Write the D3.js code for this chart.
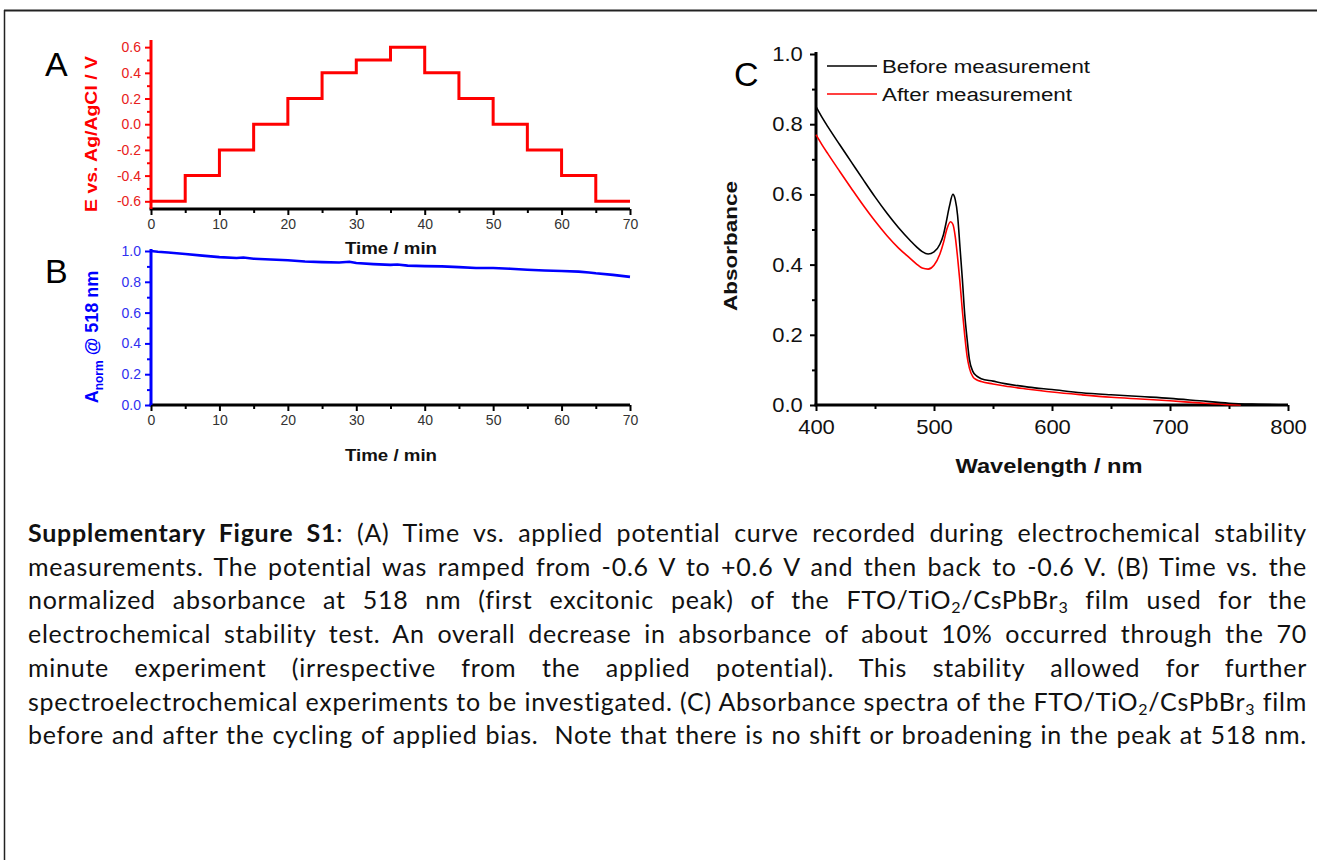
<!DOCTYPE html>
<html>
<head>
<meta charset="utf-8">
<script src="https://cdn.jsdelivr.net/npm/d3@7"></script>
<style>
  body { margin: 0; background: #fff; }
  #wrap { position: relative; width: 1317px; height: 860px; overflow: hidden; }
  svg { position: absolute; left: 0; top: 0; }
  .tick text { font-family: "Liberation Sans", Arial, sans-serif; }
  .axtitle { font-family: "Liberation Sans", Arial, sans-serif; font-weight: bold; }
  .letter { font-family: "Liberation Sans", Arial, sans-serif; font-size: 34px; fill: #000; }
  .legend { font-family: "Liberation Sans", Arial, sans-serif; font-size: 18px; fill: #111; }
  #caption { position: absolute; left: 28px; top: 516px; width: 1279px;
    font-family: Lato, "Open Sans", sans-serif; font-size: 25px; line-height: 33.7px; color: #111; }
  #caption div { text-align: justify; text-align-last: justify; white-space: nowrap; }
  #caption sub { font-size: 16px; vertical-align: -4px; line-height: 0; }
</style>
</head>
<body>
<div id="wrap">
<svg id="fig" width="1317" height="860"></svg>
<div id="caption"></div>
</div>
<script>
// panel A: applied potential steps
const timeA = [0, 5, 10, 15, 20, 25, 30, 35, 40, 45, 50, 55, 60, 65, 70];
const potentialA = [-0.6, -0.4, -0.2, 0.0, 0.2, 0.4, 0.5, 0.6, 0.4, 0.2, 0.0, -0.2, -0.4, -0.6, -0.6];

// panel B: normalized absorbance at 518 nm
const timeB = [0, 1, 2.5, 5, 7.5, 10, 12.5, 13.5, 15, 17.5, 20, 22.5, 25, 27.5, 29, 30, 32.5, 35, 36, 37.5,
               40, 42.5, 45, 47.5, 50, 52.5, 55, 57.5, 60, 62.5, 64, 65, 67.5, 70];
const absB = [1.0, 0.995, 0.99, 0.98, 0.97, 0.96, 0.955, 0.958, 0.95, 0.945, 0.94, 0.932, 0.928, 0.925, 0.93, 0.922,
              0.915, 0.91, 0.912, 0.905, 0.902, 0.9, 0.895, 0.89, 0.89, 0.885, 0.878, 0.873, 0.87, 0.866, 0.86,
              0.855, 0.845, 0.832];

// panel C: absorbance spectra
const wlBefore = [400, 405, 410, 420, 430, 440, 450, 460, 470, 480, 485, 490, 495, 500, 505, 508, 510, 513, 516,
                  518, 520, 522, 524, 526, 528, 530, 533, 536, 540, 550, 560, 580, 600, 625, 650, 675, 700, 725,
                  750, 775, 800];
const absBefore = [0.85, 0.82, 0.793, 0.742, 0.692, 0.642, 0.593, 0.547, 0.505, 0.468, 0.451, 0.437, 0.43, 0.436, 0.458,
                   0.485, 0.515, 0.565, 0.6, 0.585, 0.54, 0.45, 0.36, 0.26, 0.19, 0.13, 0.095, 0.083, 0.075, 0.068,
                   0.061, 0.051, 0.044, 0.035, 0.029, 0.024, 0.019, 0.012, 0.005, 0.002, 0.0];
const wlAfter = [400, 405, 410, 420, 430, 440, 450, 460, 470, 480, 485, 490, 495, 500, 505, 508, 511, 514, 516,
                 518, 520, 522, 524, 526, 528, 530, 533, 536, 540, 550, 560, 580, 600, 625, 650, 675, 700, 725,
                 750, 760];
const absAfter = [0.77, 0.742, 0.716, 0.666, 0.617, 0.569, 0.524, 0.483, 0.447, 0.417, 0.402, 0.39, 0.387, 0.398, 0.43,
                  0.462, 0.502, 0.522, 0.515, 0.48, 0.42, 0.35, 0.27, 0.2, 0.14, 0.105, 0.08, 0.072, 0.067, 0.06,
                  0.054, 0.045, 0.037, 0.029, 0.022, 0.017, 0.012, 0.006, 0.001, 0.0];

const legendNames = ["Before measurement", "After measurement"];

const captionLines = [
  "<b>Supplementary Figure S1</b>: (A) Time vs. applied potential curve recorded during electrochemical stability",
  "measurements. The potential was ramped from -0.6 V to +0.6 V and then back to -0.6 V. (B) Time vs. the",
  "normalized absorbance at 518 nm (first excitonic peak) of the FTO/TiO<sub>2</sub>/CsPbBr<sub>3</sub> film used for the",
  "electrochemical stability test. An overall decrease in absorbance of about 10% occurred through the 70",
  "minute experiment (irrespective from the applied potential). This stability allowed for further",
  "spectroelectrochemical experiments to be investigated. (C) Absorbance spectra of the FTO/TiO<sub>2</sub>/CsPbBr<sub>3</sub> film",
  "before and after the cycling of applied bias.&nbsp; Note that there is no shift or broadening in the peak at 518 nm."
];

let svg = d3.select("#fig");

// page frame
svg.append("line").attr("x1", 4).attr("x2", 1317).attr("y1", 10.5).attr("y2", 10.5)
  .attr("stroke", "#222").attr("stroke-width", 2);
svg.append("line").attr("x1", 4.5).attr("x2", 4.5).attr("y1", 10).attr("y2", 860)
  .attr("stroke", "#222").attr("stroke-width", 1.5);

function styleAxis(g, color, labelColor, fontSize, width){
  g.select(".domain").attr("stroke", color).attr("stroke-width", width);
  g.selectAll(".tick line").attr("stroke", color).attr("stroke-width", 2);
  g.selectAll(".tick text").attr("fill", labelColor).style("font-size", fontSize + "px");
}

function drawAxes(g, x, y, opt){
  // minor ticks first
  let xm = g.append("g").attr("transform", `translate(0,${opt.y0})`)
    .call(d3.axisBottom(x).tickValues(opt.xMinor).tickFormat("").tickSize(4).tickSizeOuter(0));
  styleAxis(xm, "#000", "#000", opt.fs, 0);
  xm.select(".domain").remove();
  let ym = g.append("g").attr("transform", `translate(${opt.x0},0)`)
    .call(d3.axisLeft(y).tickValues(opt.yMinor).tickFormat("").tickSize(4).tickSizeOuter(0));
  styleAxis(ym, opt.yColor, opt.yColor, opt.fs, 0);
  ym.select(".domain").remove();

  let xa = g.append("g").attr("transform", `translate(0,${opt.y0})`)
    .call(d3.axisBottom(x).tickValues(opt.xTicks).tickFormat(opt.xFormat).tickSize(6).tickSizeOuter(0).tickPadding(opt.xPad));
  styleAxis(xa, "#000", opt.xLabel, opt.fs, 3);
  let ya = g.append("g").attr("transform", `translate(${opt.x0},0)`)
    .call(d3.axisLeft(y).tickValues(opt.yTicks).tickFormat(opt.yFormat).tickSize(6).tickSizeOuter(0).tickPadding(opt.yPad));
  styleAxis(ya, opt.yColor, opt.yLabel, opt.fs, 3);
  ya.select(".domain").attr("d", `M0,${y.range()[0]}V${opt.yTop}`);
  xa.select(".domain").attr("d", `M${opt.x0 - 1.5},0H${x.range()[1]}`);
  return {xa, ya};
}

const f1 = d3.format(".1f");
const minusFmt = d => f1(d).replace("−", "-");

// ---------- Panel A ----------
let xA = d3.scaleLinear().domain([0, 70]).range([151, 630]);
let yA = d3.scaleLinear().domain([-0.66, 0.64]).range([209, 42]);
let gA = svg.append("g");
drawAxes(gA, xA, yA, {
  y0: 209, x0: 151, yTop: 40, fs: 14, xPad: 4, yPad: 4,
  xTicks: d3.range(0, 71, 10), xMinor: d3.range(5, 70, 10), xFormat: d => d, xLabel: "#333",
  yTicks: [-0.6, -0.4, -0.2, 0, 0.2, 0.4, 0.6], yMinor: [-0.5, -0.3, -0.1, 0.1, 0.3, 0.5], yFormat: minusFmt,
  yColor: "#ff0000", yLabel: "#e82020"
});
let stepLine = d3.line().x((d, i) => xA(timeA[i])).y(d => yA(d)).curve(d3.curveStepAfter);
gA.append("path").attr("d", stepLine(potentialA)).attr("fill", "none")
  .attr("stroke", "#ff0000").attr("stroke-width", 3);
gA.append("text").attr("class", "axtitle").attr("x", 391).attr("y", 254).attr("text-anchor", "middle")
  .style("font-size", "17px").attr("textLength", 92).attr("lengthAdjust", "spacingAndGlyphs")
  .attr("fill", "#111").text("Time / min");
gA.append("text").attr("class", "axtitle").attr("transform", "translate(97,134) rotate(-90)")
  .attr("text-anchor", "middle").style("font-size", "17px").attr("fill", "#ff0000")
  .attr("textLength", 156).attr("lengthAdjust", "spacingAndGlyphs")
  .text("E vs. Ag/AgCl / V");
gA.append("text").attr("class", "letter").attr("x", 45).attr("y", 76).text("A");

// ---------- Panel B ----------
let xB = d3.scaleLinear().domain([0, 70]).range([151, 630]);
let yB = d3.scaleLinear().domain([0, 1.0]).range([405, 251]);
let gB = svg.append("g");
drawAxes(gB, xB, yB, {
  y0: 405, x0: 151, yTop: 249, fs: 14, xPad: 4, yPad: 4,
  xTicks: d3.range(0, 71, 10), xMinor: d3.range(5, 70, 10), xFormat: d => d, xLabel: "#333",
  yTicks: [0, 0.2, 0.4, 0.6, 0.8, 1.0], yMinor: [0.1, 0.3, 0.5, 0.7, 0.9], yFormat: f1,
  yColor: "#0000ff", yLabel: "#3030f0"
});
let absLine = d3.line().x((d, i) => xB(timeB[i])).y(d => yB(d));
gB.append("path").attr("d", absLine(absB)).attr("fill", "none")
  .attr("stroke", "#0000ff").attr("stroke-width", 2.6);
gB.append("text").attr("class", "axtitle").attr("x", 391).attr("y", 461).attr("text-anchor", "middle")
  .style("font-size", "17px").attr("textLength", 92).attr("lengthAdjust", "spacingAndGlyphs")
  .attr("fill", "#111").text("Time / min");
let bt = gB.append("text").attr("class", "axtitle").attr("transform", "translate(98,337) rotate(-90)")
  .attr("text-anchor", "middle").style("font-size", "18px").attr("fill", "#0000ff");
bt.append("tspan").text("A");
bt.append("tspan").attr("dy", 5).style("font-size", "12px").text("norm");
bt.append("tspan").attr("dy", -5).text(" @ 518 nm");

gB.append("text").attr("class", "letter").attr("x", 45).attr("y", 283).text("B");

// ---------- Panel C ----------
let xC = d3.scaleLinear().domain([400, 800]).range([816, 1288]);
let yC = d3.scaleLinear().domain([0, 1.0]).range([405, 54]);
let gC = svg.append("g");
let axC = drawAxes(gC, xC, yC, {
  y0: 405, x0: 816, yTop: 52, fs: 20, xPad: 9, yPad: 6,
  xTicks: d3.range(400, 801, 100), xMinor: d3.range(450, 800, 100), xFormat: d => d, xLabel: "#111",
  yTicks: [0, 0.2, 0.4, 0.6, 0.8, 1.0], yMinor: [0.1, 0.3, 0.5, 0.7, 0.9], yFormat: f1,
  yColor: "#000", yLabel: "#111"
});
// Origin export is a little wider than tall
axC.xa.selectAll(".tick text").attr("transform", "scale(1.1,1)");
axC.ya.selectAll(".tick text").attr("transform", "scale(1.1,1)");

let specBefore = d3.line().x((d, i) => xC(wlBefore[i])).y(d => yC(d)).curve(d3.curveMonotoneX);
let specAfter = d3.line().x((d, i) => xC(wlAfter[i])).y(d => yC(d)).curve(d3.curveMonotoneX);
gC.append("path").attr("d", specAfter(absAfter)).attr("fill", "none")
  .attr("stroke", "#ff0000").attr("stroke-width", 1.6);
gC.append("path").attr("d", specBefore(absBefore)).attr("fill", "none")
  .attr("stroke", "#000").attr("stroke-width", 1.6);
gC.append("text").attr("class", "axtitle").attr("x", 1049).attr("y", 473).attr("text-anchor", "middle")
  .style("font-size", "20px").attr("textLength", 187).attr("lengthAdjust", "spacingAndGlyphs")
  .attr("fill", "#111").text("Wavelength / nm");
gC.append("text").attr("class", "axtitle").attr("transform", "translate(737,246) rotate(-90)")
  .attr("text-anchor", "middle").style("font-size", "19px").attr("fill", "#111")
  .attr("textLength", 130).attr("lengthAdjust", "spacingAndGlyphs").text("Absorbance");
gC.append("text").attr("class", "letter").attr("x", 734).attr("y", 86).text("C");

// legend
const legendColors = ["#000", "#ff0000"];
const legendWidths = [208, 190];
legendNames.forEach((name, i) => {
  let ly = 66 + i * 28;
  gC.append("line").attr("x1", 827).attr("x2", 877).attr("y1", ly).attr("y2", ly)
    .attr("stroke", legendColors[i]).attr("stroke-width", 1.6);
  gC.append("text").attr("class", "legend").attr("x", 882).attr("y", ly + 6.5)
    .attr("textLength", legendWidths[i]).attr("lengthAdjust", "spacingAndGlyphs").text(name);
});

// caption: adjust letter spacing so the tightest line just fits
let cap = d3.select("#caption");
let probe = cap.append("span").style("white-space", "nowrap").style("position", "absolute");
let ls = Infinity;
captionLines.forEach(h => {
  probe.html(h);
  let node = probe.node();
  let w = node.getBoundingClientRect().width;
  let n = node.textContent.length;
  ls = Math.min(ls, (1276 - w) / n);
});
probe.remove();
cap.style("letter-spacing", ls + "px");
cap.selectAll("div").data(captionLines).join("div").html(d => d);
</script>
</body>
</html>
